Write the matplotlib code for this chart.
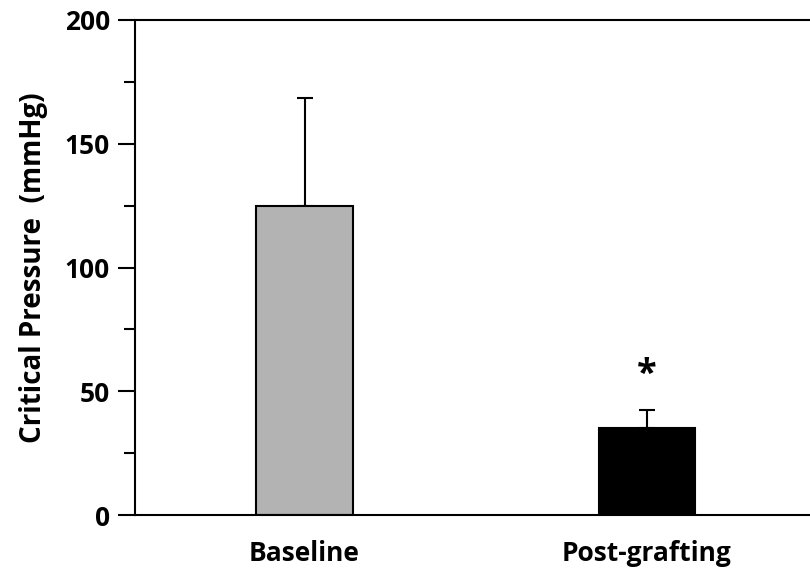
import numpy as np
import matplotlib.pyplot as plt
from matplotlib.ticker import MultipleLocator

groups = ["Baseline", "Post-grafting"]
means = [125, 35]
errors = [43.5, 7.5]
colors = ["#b3b3b3", "#000000"]

plt.rcParams['font.family'] = ['Open Sans', 'DejaVu Sans']
plt.rcParams['font.weight'] = 'bold'

fig = plt.figure(figsize=(8.1, 5.8), dpi=100)
ax = fig.add_axes([135 / 810, 65 / 580, 675 / 810, 495 / 580])

x = np.arange(len(groups))
ax.bar(x, means, width=0.283, color=colors, edgecolor="black", linewidth=1.5, zorder=2)
# upper error bars only
ax.errorbar(x, means, yerr=[np.zeros(len(errors)), errors], fmt="none",
            ecolor="black", elinewidth=1.5, capsize=6, capthick=1.5, zorder=1)

ax.text(x[1], means[1] + errors[1] + 14, "*", ha="center", va="center",
        fontsize=26, fontweight="bold")

ax.set_xlim(-0.495, 1.476)
ax.set_ylim(0, 200)
ax.set_xticks(x)
ax.set_xticklabels(groups, fontsize=19, fontweight="bold")
ax.tick_params(axis="x", length=0, pad=18)
ax.yaxis.set_major_locator(MultipleLocator(50))
ax.yaxis.set_minor_locator(MultipleLocator(25))
ax.tick_params(axis="y", which="major", length=12, width=1.5, labelsize=19, pad=6)
ax.tick_params(axis="y", which="minor", length=8, width=1.5)
for lab in ax.get_yticklabels():
    lab.set_fontweight("bold")

ax.set_ylabel("Critical Pressure  (mmHg)", fontsize=20, fontweight="bold", labelpad=12)

for s in ["left", "bottom", "top"]:
    ax.spines[s].set_linewidth(1.5)
ax.spines["right"].set_visible(False)

plt.savefig("out.png", dpi=100)
